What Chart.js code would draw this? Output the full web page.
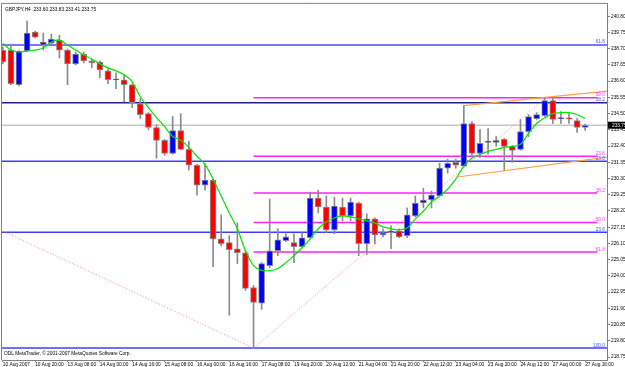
<!DOCTYPE html>
<html>
<head>
<meta charset="utf-8">
<script src="https://cdn.jsdelivr.net/npm/chart.js@4.4.0/dist/chart.umd.min.js"></script>
<style>
html, body { margin: 0; padding: 0; background: #fff; }
</style>
</head>
<body>
<canvas id="chart" width="625" height="367"></canvas>
<script>
// Axis labels
let timeLabels = ["10 Aug 2007","10 Aug 20:00","13 Aug 08:00","14 Aug 00:00","14 Aug 16:00","15 Aug 08:00","16 Aug 00:00","16 Aug 16:00","17 Aug 08:00","19 Aug 20:00","20 Aug 12:00","21 Aug 04:00","21 Aug 20:00","22 Aug 12:00","23 Aug 04:00","23 Aug 20:00","24 Aug 12:00","27 Aug 00:00","27 Aug 16:00"];
let priceTicks = [240.80,239.75,238.70,237.65,236.60,235.55,234.50,233.45,232.40,231.35,230.30,229.25,228.20,227.15,226.10,225.05,224.00,222.95,221.90,220.85,219.80,218.75];

// GBPJPY H4 candles
let opens  = [238.61,238.61,236.37,238.55,239.77,238.94,239.06,239.26,238.61,237.72,238.36,237.91,237.84,237.27,236.69,236.69,236.37,235.14,234.50,233.60,232.77,231.93,233.41,232.19,231.16,229.87,230.20,226.40,226.15,225.76,225.50,223.25,222.23,224.67,225.63,226.28,226.15,225.89,226.47,229.04,228.46,226.98,228.46,227.88,228.72,226.08,227.69,226.66,226.79,226.92,226.60,227.88,228.72,228.91,229.17,230.97,231.35,231.10,233.86,231.93,232.64,232.64,232.83,232.38,232.19,233.34,234.18,234.37,235.34,234.18,234.18,234.05,233.60];
let highs  = [238.81,239.00,238.58,240.48,239.84,239.71,239.64,239.58,238.68,238.49,238.49,238.04,237.91,237.39,237.14,237.01,236.43,235.47,234.57,233.79,232.83,234.31,234.50,232.70,231.22,231.22,230.26,227.95,226.60,227.43,225.63,223.38,224.86,228.97,227.05,226.72,226.72,226.79,229.42,229.55,229.17,229.10,229.04,229.04,228.78,228.01,227.75,227.05,227.24,227.05,228.40,229.17,229.68,229.49,231.29,231.55,231.55,235.02,233.99,233.47,233.54,233.02,232.90,232.44,234.12,234.44,234.57,235.53,235.47,234.63,234.50,234.18,233.83];
let lows   = [237.72,236.37,236.30,238.49,239.40,238.61,239.02,238.10,236.37,237.65,237.78,237.46,236.82,236.43,236.11,235.27,234.89,234.18,233.47,231.61,231.80,231.87,232.15,230.84,229.23,229.55,224.60,225.95,221.46,224.80,223.06,219.33,221.84,224.54,225.31,226.21,224.86,225.82,226.40,228.07,226.79,226.72,227.56,227.56,225.31,225.38,226.08,226.53,225.76,226.47,226.47,227.82,228.40,228.40,229.17,230.65,230.97,231.03,231.74,231.67,231.87,232.38,230.84,231.35,232.12,233.02,234.12,234.31,233.86,233.86,233.86,233.28,233.41];
let closes = [237.84,236.43,238.55,239.71,239.45,239.13,239.32,238.61,237.72,238.36,237.91,237.78,237.33,236.69,236.71,236.37,235.21,234.44,233.60,232.77,231.93,233.41,232.19,231.16,229.87,230.20,226.40,226.08,225.70,225.50,223.19,222.29,224.80,225.63,226.34,226.53,225.89,226.47,229.04,228.46,226.98,228.52,227.88,228.78,226.08,227.69,226.66,226.79,226.92,226.53,227.95,228.72,228.91,229.23,230.97,231.29,231.16,233.86,231.93,232.57,232.66,232.77,232.38,232.12,233.34,234.31,234.44,235.34,234.12,234.20,234.16,233.60,233.75];
// moving average (green)
let maLine = [239.06,238.61,238.49,238.55,238.61,238.74,239.13,239.26,238.94,238.61,238.29,238.04,237.72,237.46,237.27,237.01,236.56,235.59,234.89,234.24,233.67,233.02,232.77,232.32,231.74,231.22,230.26,229.17,228.07,227.05,225.63,224.67,224.35,224.35,224.48,224.86,225.31,225.82,226.40,227.05,227.50,227.75,227.88,227.82,227.69,227.56,227.43,227.17,227.05,226.98,227.11,227.69,228.20,228.78,229.17,229.62,230.26,231.10,231.61,231.87,232.06,232.19,232.32,232.38,232.51,233.22,233.86,234.24,234.50,234.57,234.57,234.44,234.18];

// Fibonacci / horizontal levels
let blueLevels = [238.94, 231.42, 226.83, 219.33];
let blueLabels = ["61.8", "23.6", "23.6", "100.0"];
let navyLevel = 235.21;
let navyLabel = "38.2";
let pinkLevels = [235.53, 231.74, 229.36, 227.46, 225.54];
let pinkLabels = ["50.0", "23.6", "38.2", "50.0", "61.8"];
let lastPrice = 233.75;

// trend lines [bar, price]
let upperTrend = [[57, 235.02], [74.7, 235.95]];
let lowerTrend = [[56.2, 230.40], [74.7, 231.68]];
let fibDiagLeft = [[-0.2, 226.95], [31, 219.33]];
let fibDiagRight = [[31, 219.33], [67, 235.47]];

let xMin = -0.1, xMax = 74.7;
let bars = opens.map((o, i) => i);

function hLine(v, from, to, color, width, order) {
    return { type: "line", data: [{x: from, y: v}, {x: to, y: v}], borderColor: color, borderWidth: width,
             pointRadius: 0, order: order || 10 };
}
function segLine(pts, color, width, dash, order) {
    return { type: "line", data: pts.map(p => ({x: p[0], y: p[1]})), borderColor: color, borderWidth: width,
             borderDash: dash || [], pointRadius: 0, order: order || 8 };
}

let datasets = [];
blueLevels.forEach((v, i) => datasets.push(hLine(v, xMin, xMax, i == 0 ? "#7878ff" : "#3c3cff", i == 0 ? 2 : 1.5)));
datasets.push(hLine(navyLevel, xMin, xMax, "#20208a", 1.5));
pinkLevels.forEach(v => datasets.push(hLine(v, 31, 73.5, "#ff20ff", 1.5)));
datasets.push(hLine(lastPrice, xMin, xMax, "#c8c8c8", 1.5, 11));
datasets.push(segLine(fibDiagLeft, "#ff8c8c", 1, [1, 2], 9));
datasets.push(segLine(fibDiagRight, "#ff8c8c", 1, [1, 2], 9));
datasets.push(segLine(upperTrend, "#ffa040", 1.2));
datasets.push(segLine(lowerTrend, "#ffa040", 1.2));

// wicks
datasets.push({
    type: "bar", data: bars.map(i => ({x: i, y: [lows[i], highs[i]]})),
    backgroundColor: "#8a8a8a", barThickness: 1, grouped: false, order: 5
});
// bodies
datasets.push({
    type: "bar", data: bars.map(i => ({x: i, y: [opens[i], closes[i]]})),
    backgroundColor: bars.map(i => closes[i] >= opens[i] ? "#0000ff" : "#ff0000"),
    borderColor: "#8a8a8a", borderWidth: 1, borderSkipped: false,
    barThickness: 6, minBarLength: 1, grouped: false, order: 4
});
// MA
datasets.push({
    type: "line", data: bars.map(i => ({x: i, y: maLine[i]})),
    borderColor: "#00e600", borderWidth: 1.2, pointRadius: 0, tension: 0.3, order: 1
});

let smallFont = { family: "Liberation Sans", size: 4.8 };

let decor = {
    id: "decor",
    beforeDraw(chart) {
        let c = chart.ctx;
        c.save();
        c.fillStyle = "#ffffff";
        c.fillRect(0, 0, chart.width, chart.height);
        c.restore();
    },
    afterDraw(chart) {
        let c = chart.ctx, a = chart.chartArea, y = chart.scales.y;
        c.save();
        c.strokeStyle = "#808080";
        c.lineWidth = 1;
        c.beginPath();
        c.moveTo(a.left - 0.5, a.bottom); c.lineTo(a.left - 0.5, a.top - 0.5); c.lineTo(a.right, a.top - 0.5);
        c.stroke();

        c.font = "4.8px 'Liberation Sans'";
        c.textBaseline = "alphabetic";
        c.fillStyle = "#000";
        c.textAlign = "left";
        c.fillText("GBPJPY,H4  233.60 233.83 233.41 233.75", a.left + 3, a.top + 7);
        c.fillText("ODL MetaTrader, \u00a9 2001-2007 MetaQuotes Software Corp.", a.left + 2, a.bottom - 5);

        c.textAlign = "right";
        blueLevels.forEach((v, i) => {
            c.fillStyle = "#5050ff";
            c.fillText(blueLabels[i], a.right - 2, y.getPixelForValue(v) - 1.5);
        });
        c.fillStyle = "#5050ff";
        c.fillText(navyLabel, a.right - 2, y.getPixelForValue(navyLevel) - 1.5);
        pinkLevels.forEach((v, i) => {
            c.fillStyle = "#ff40ff";
            c.fillText(pinkLabels[i], a.right - 2, y.getPixelForValue(v) - 1.5);
        });

        // last price box
        let py = y.getPixelForValue(lastPrice);
        c.fillStyle = "#000";
        c.fillRect(a.right + 1, py - 3.5, chart.width - a.right - 1, 7);
        c.fillStyle = "#fff";
        c.textAlign = "left";
        c.textBaseline = "middle";
        c.fillText(lastPrice.toFixed(2), a.right + 5, py);
        c.restore();
    }
};

new Chart(document.getElementById("chart"), {
    type: "bar",
    data: { datasets: datasets },
    options: {
        responsive: false,
        animation: false,
        devicePixelRatio: 1,
        layout: { padding: { left: 2, top: 2, right: 0, bottom: 0 } },
        plugins: { legend: { display: false }, tooltip: { enabled: false } },
        scales: {
            x: {
                type: "linear", min: xMin, max: xMax, offset: false,
                grid: { drawOnChartArea: false, offset: false, tickLength: 2, color: "#808080" },
                border: { color: "#808080" },
                afterBuildTicks: s => { s.ticks = timeLabels.map((t, i) => ({ value: i * 4 })); },
                afterFit: s => { s.height = 7; },
                ticks: {
                    autoSkip: false, maxRotation: 0, align: "start", padding: 0, color: "#000", font: smallFont,
                    callback: (v) => timeLabels[Math.round(v / 4)]
                }
            },
            y: {
                position: "right", min: 218.56, max: 241.60,
                grid: { drawOnChartArea: false, tickLength: 3, color: "#808080" },
                border: { color: "#808080" },
                afterBuildTicks: s => { s.ticks = priceTicks.map(v => ({ value: v })); },
                afterFit: s => { s.width = 18; },
                ticks: { padding: 1, color: "#000", font: smallFont, callback: v => v.toFixed(2) }
            }
        }
    },
    plugins: [decor]
});
</script>
</body>
</html>
